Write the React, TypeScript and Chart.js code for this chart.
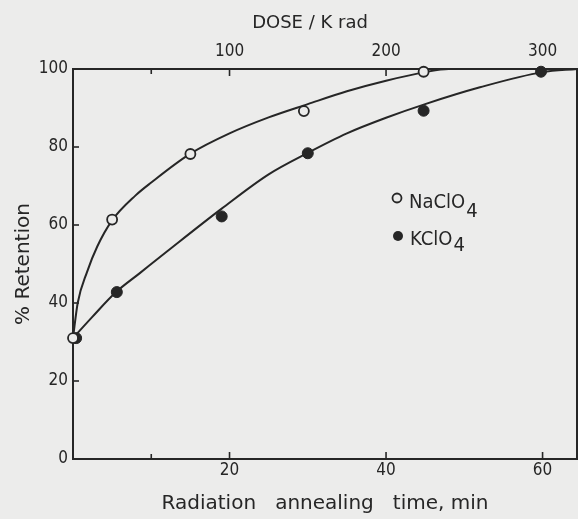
import React, { useEffect, useRef } from 'react';
import { Chart, registerables } from 'chart.js';

Chart.register(...registerables);

// Measured points
const NACLO4_TIME = [0, 5, 15, 29.5, 44.8];
const NACLO4_RETENTION = [31, 61.4, 78.2, 89.2, 99.3];
const KCLO4_TIME = [0.4, 5.6, 19, 30, 44.8, 59.8];
const KCLO4_RETENTION = [31, 42.8, 62.2, 78.4, 89.3, 99.3];

// Hand-drawn fitted curves
const NACLO4_CURVE_TIME = [0, 0.6, 1.8, 3.1, 5, 8, 10, 15, 20, 25, 30, 35, 40, 45, 48, 64.4];
const NACLO4_CURVE_RETENTION = [31, 40, 48, 54.5, 61.2, 67.6, 70.9, 78.3, 83.5, 87.6, 91, 94.3, 97, 99.2, 100, 100];
const KCLO4_CURVE_TIME = [0, 2.5, 5.5, 8.5, 12, 19, 25, 30, 35, 40, 45, 52, 60, 64.4];
const KCLO4_CURVE_RETENTION = [31, 36.5, 42.8, 47.6, 53.2, 64.2, 73, 78.5, 83.5, 87.5, 91, 95.3, 99.2, 100];

// Axes
const TIME_TICKS = [10, 20, 40, 60];
const TIME_LABELS = [20, 40, 60];
const DOSE_TICKS = [50, 100, 200, 300];
const DOSE_LABELS = [100, 200, 300];
const RETENTION_TICKS = [0, 20, 40, 60, 80, 100];
const TIME_MAX = 64.4;
const DOSE_PER_MIN = 5;
const DOSE_TITLE = 'DOSE / K rad';

const INK = '#262626';
const PAPER = '#ececeb';
const COND = '"DejaVu Sans Condensed", "DejaVu Sans", sans-serif';
const SANS = '"DejaVu Sans", sans-serif';

const framePlugin = {
  id: 'frame',
  beforeDraw(chart: any) {
    const { ctx, width, height } = chart;
    ctx.save();
    ctx.fillStyle = PAPER;
    ctx.fillRect(0, 0, width, height);
    ctx.restore();
  },
  beforeDatasetsDraw(chart: any) {
    const { ctx, chartArea: a, scales } = chart;
    ctx.save();
    ctx.strokeStyle = INK;
    ctx.lineWidth = 2;
    ctx.strokeRect(a.left, a.top, a.right - a.left, a.bottom - a.top);
    ctx.lineWidth = 1.6;
    const drawH = (scale: any, labels: number[], atTop: boolean) => {
      scale.ticks.forEach((t: any) => {
        const px = scale.getPixelForValue(t.value);
        const len = labels.includes(t.value) ? 7 : 5;
        ctx.beginPath();
        if (atTop) {
          ctx.moveTo(px, a.top);
          ctx.lineTo(px, a.top + len);
        } else {
          ctx.moveTo(px, a.bottom);
          ctx.lineTo(px, a.bottom - len);
        }
        ctx.stroke();
      });
    };
    drawH(scales.x, TIME_LABELS, false);
    drawH(scales.x2, DOSE_LABELS, true);
    scales.y.ticks.forEach((t: any) => {
      if (t.value === 0 || t.value === 100) return;
      const py = scales.y.getPixelForValue(t.value);
      ctx.beginPath();
      ctx.moveTo(a.left, py);
      ctx.lineTo(a.left + 6, py);
      ctx.stroke();
    });
    ctx.restore();
  },
  afterDraw(chart: any) {
    const { ctx } = chart;
    ctx.save();
    // top axis title
    ctx.fillStyle = INK;
    ctx.font = `18px ${SANS}`;
    ctx.textAlign = 'center';
    ctx.textBaseline = 'middle';
    ctx.fillText(DOSE_TITLE, 310, 23);
    // legend
    ctx.strokeStyle = INK;
    ctx.lineWidth = 1.8;
    ctx.beginPath();
    ctx.arc(397, 198, 4.5, 0, Math.PI * 2);
    ctx.fillStyle = PAPER;
    ctx.fill();
    ctx.stroke();
    ctx.beginPath();
    ctx.arc(398, 236, 5, 0, Math.PI * 2);
    ctx.fillStyle = INK;
    ctx.fill();
    ctx.font = `20px ${COND}`;
    ctx.textBaseline = 'alphabetic';
    ctx.textAlign = 'left';
    ctx.fillText('NaClO', 409, 208);
    const w1 = ctx.measureText('NaClO').width;
    ctx.fillText('4', 409 + w1 + 1, 217);
    ctx.fillText('KClO', 410, 245);
    const w2 = ctx.measureText('KClO').width;
    ctx.fillText('4', 410 + w2 + 1, 251);
    ctx.restore();
  },
};

const tickFont = { family: COND, size: 17 };

export default function App() {
  const ref = useRef<HTMLCanvasElement | null>(null);

  useEffect(() => {
    if (!ref.current) return;
    const naPts = NACLO4_TIME.map((x, i) => ({ x, y: NACLO4_RETENTION[i] }));
    const kPts = KCLO4_TIME.map((x, i) => ({ x, y: KCLO4_RETENTION[i] }));
    const naCurve = NACLO4_CURVE_TIME.map((x, i) => ({ x, y: NACLO4_CURVE_RETENTION[i] }));
    const kCurve = KCLO4_CURVE_TIME.map((x, i) => ({ x, y: KCLO4_CURVE_RETENTION[i] }));

    const chart = new Chart(ref.current, {
      type: 'line',
      data: {
        datasets: [
          {
            label: 'NaClO4',
            data: naPts,
            showLine: false,
            pointStyle: 'circle',
            pointRadius: 5,
            pointBorderWidth: 1.8,
            pointBackgroundColor: PAPER,
            pointBorderColor: INK,
            clip: false,
          } as any,
          {
            label: 'KClO4',
            data: kPts,
            showLine: false,
            pointStyle: 'circle',
            pointRadius: 5.5,
            pointBorderWidth: 1,
            pointBackgroundColor: INK,
            pointBorderColor: INK,
            clip: false,
          },
          {
            label: 'NaClO4 fit',
            data: naCurve,
            borderColor: INK,
            borderWidth: 2,
            pointRadius: 0,
            cubicInterpolationMode: 'monotone',
            fill: false,
          },
          {
            label: 'KClO4 fit',
            data: kCurve,
            borderColor: INK,
            borderWidth: 2,
            pointRadius: 0,
            cubicInterpolationMode: 'monotone',
            fill: false,
          },
        ],
      },
      options: {
        animation: false,
        responsive: false,
        maintainAspectRatio: false,
        layout: { autoPadding: false, padding: { left: 0, right: 1, top: 0, bottom: 0 } },
        plugins: { legend: { display: false }, tooltip: { enabled: false } },
        scales: {
          x: {
            type: 'linear',
            position: 'bottom',
            min: 0,
            max: TIME_MAX,
            afterFit: (s: any) => {
              s.height = 60;
              s.paddingLeft = 0;
              s.paddingRight = 0;
            },
            afterBuildTicks: (s: any) => {
              s.ticks = TIME_TICKS.map((v) => ({ value: v }));
            },
            ticks: {
              autoSkip: false,
              maxRotation: 0,
              padding: 1,
              font: tickFont,
              color: INK,
              callback: (v: any) => (TIME_LABELS.includes(Number(v)) ? String(v) : ''),
            },
            grid: { display: false, drawTicks: false },
            border: { display: false },
            title: {
              display: true,
              text: 'Radiation   annealing   time, min',
              font: { family: SANS, size: 20 },
              color: INK,
              padding: { top: 0, bottom: 3 },
            },
          },
          x2: {
            type: 'linear',
            position: 'top',
            min: 0,
            max: TIME_MAX * DOSE_PER_MIN,
            afterFit: (s: any) => {
              s.height = 69;
              s.paddingLeft = 0;
              s.paddingRight = 0;
            },
            afterBuildTicks: (s: any) => {
              s.ticks = DOSE_TICKS.map((v) => ({ value: v }));
            },
            ticks: {
              autoSkip: false,
              maxRotation: 0,
              padding: 7,
              font: tickFont,
              color: INK,
              callback: (v: any) => (DOSE_LABELS.includes(Number(v)) ? String(v) : ''),
            },
            grid: { display: false, drawTicks: false },
            border: { display: false },
            title: { display: false },
          },
          y: {
            type: 'linear',
            position: 'left',
            min: 0,
            max: 100,
            afterFit: (s: any) => {
              s.width = 73;
              s.paddingTop = 0;
              s.paddingBottom = 0;
            },
            afterBuildTicks: (s: any) => {
              s.ticks = RETENTION_TICKS.map((v) => ({ value: v }));
            },
            ticks: {
              autoSkip: false,
              padding: 5,
              font: tickFont,
              color: INK,
            },
            grid: { display: false, drawTicks: false },
            border: { display: false },
            title: {
              display: true,
              text: '% Retention',
              font: { family: SANS, size: 20 },
              color: INK,
              padding: { top: 12, bottom: 0 },
            },
          },
        },
      } as any,
      plugins: [framePlugin],
    });
    return () => chart.destroy();
  }, []);

  return (
    <div style={{ position: 'fixed', left: 0, top: 0, width: 578, height: 519 }}>
      <canvas ref={ref} width={578} height={519} style={{ display: 'block' }} />
    </div>
  );
}
